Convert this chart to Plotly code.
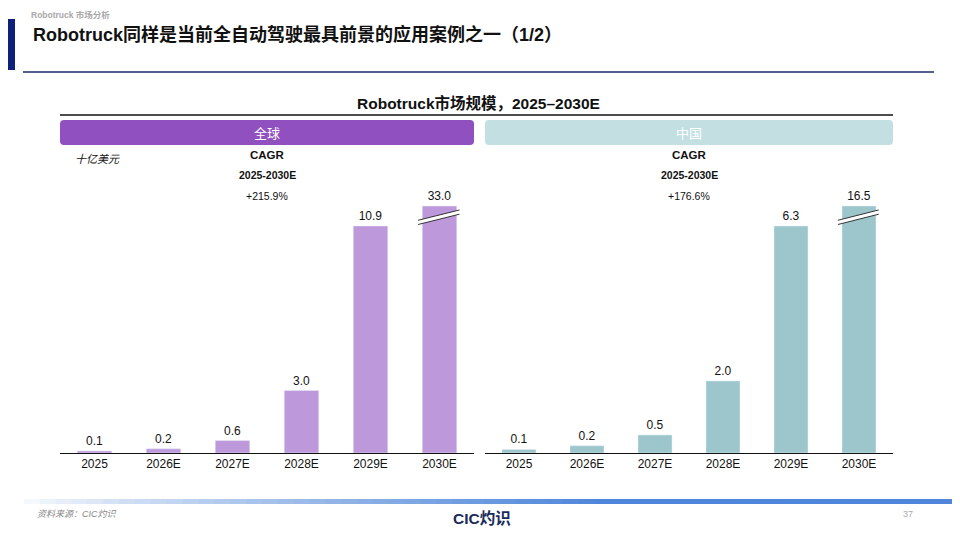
import plotly.graph_objects as go

# данные
years = ['2025', '2026E', '2027E', '2028E', '2029E', '2030E']
global_vals = [0.1, 0.2, 0.6, 3.0, 10.9, 33.0]
china_vals = [0.1, 0.2, 0.5, 2.0, 6.3, 16.5]
cagr_global = '+215.9%'
cagr_china = '+176.6%'
regions = ['全球', '中国']

W, H = 960, 540
OFF = 8  # отступ body в браузере
FONT = 'Liberation Sans, Arial, Noto Sans CJK SC'
CJK = 'Noto Sans CJK SC, Liberation Sans'
purple_bar = '#bd98da'
purple_head = '#9150c0'
teal_bar = '#9dc6cc'
teal_head = '#c3dfe2'


def px(x):
    return (x - OFF) / W


def py(y):
    return 1 - (y - OFF) / H


def rrect(x0, y0, x1, y1, r=4):
    # скругленный прямоугольник в координатах paper
    X0, X1 = px(x0), px(x1)
    Y0, Y1 = py(y1), py(y0)
    rx, ry = r / W, r / H
    return (f'M {X0+rx},{Y0} L {X1-rx},{Y0} Q {X1},{Y0} {X1},{Y0+ry} '
            f'L {X1},{Y1-ry} Q {X1},{Y1} {X1-rx},{Y1} L {X0+rx},{Y1} '
            f'Q {X0},{Y1} {X0},{Y1-ry} L {X0},{Y0+ry} Q {X0},{Y0} {X0+rx},{Y0} Z')


def capped(vals):
    # последний столбец обрезан (разрыв оси)
    cap = sorted(vals)[-2] * 1.088
    return [min(v, cap) for v in vals], cap


g_plot, g_cap = capped(global_vals)
c_plot, c_cap = capped(china_vals)
g_rng = sorted(global_vals)[-2] * 303 / 227
c_rng = sorted(china_vals)[-2] * 303 / 227

fig = go.Figure()
fig.add_bar(x=years, y=g_plot, marker_color=purple_bar, width=0.5,
            text=[f'{v:.1f}' for v in global_vals], textposition='outside',
            textfont=dict(size=12, color='#111'), cliponaxis=False,
            xaxis='x', yaxis='y', hoverinfo='skip')
fig.add_bar(x=years, y=c_plot, marker_color=teal_bar, width=0.5,
            text=[f'{v:.1f}' for v in china_vals], textposition='outside',
            textfont=dict(size=12, color='#111'), cliponaxis=False,
            xaxis='x2', yaxis='y2', hoverinfo='skip')

ydom = [py(453), py(150)]
axis_x = dict(showline=True, linecolor='#111', linewidth=1, ticks='',
              tickfont=dict(size=12, color='#111', family=FONT), showgrid=False,
              zeroline=False, fixedrange=True)
axis_y = dict(visible=False, showgrid=False, zeroline=False, fixedrange=True)

fig.update_layout(
    width=W, height=H, margin=dict(l=0, r=0, t=0, b=0),
    paper_bgcolor='white', plot_bgcolor='white', showlegend=False,
    font=dict(family=FONT, color='#111'), bargap=0.5,
    xaxis=dict(axis_x, domain=[px(60), px(474)], anchor='y'),
    yaxis=dict(axis_y, domain=ydom, range=[0, g_rng], anchor='x'),
    xaxis2=dict(axis_x, domain=[px(485), px(893)], anchor='y2'),
    yaxis2=dict(axis_y, domain=ydom, range=[0, c_rng], anchor='x2'),
)

shapes = []
# знаки разрыва на последних столбцах
for xr, yr, cap, rng in [('x', 'y', g_cap, g_rng), ('x2', 'y2', c_cap, c_rng)]:
    xa, xb = 5 - 0.31, 5 + 0.29
    ya, yb = cap - 0.047 * rng, cap - 0.013 * rng
    d = 0.014 * rng
    shapes.append(dict(type='path', xref=xr, yref=yr,
                       path=f'M {xa},{ya} L {xb},{yb} L {xb},{yb-d} L {xa},{ya-d} Z',
                       fillcolor='white', line=dict(width=0)))
    shapes.append(dict(type='line', xref=xr, yref=yr, x0=xa, y0=ya, x1=xb, y1=yb,
                       line=dict(color='#333', width=1)))
    shapes.append(dict(type='line', xref=xr, yref=yr, x0=xa, y0=ya - d, x1=xb, y1=yb - d,
                       line=dict(color='#333', width=1)))

# шапка страницы
shapes.append(dict(type='rect', xref='paper', yref='paper', x0=px(OFF), x1=px(15),
                   y0=py(70), y1=py(19), fillcolor='#0f1f7c', line=dict(width=0)))
shapes.append(dict(type='line', xref='paper', yref='paper', x0=px(23), x1=px(934),
                   y0=py(72), y1=py(72), line=dict(color='#1b2a6b', width=1.5)))
shapes.append(dict(type='line', xref='paper', yref='paper', x0=px(60), x1=px(893),
                   y0=py(115), y1=py(115), line=dict(color='#111', width=1.5)))
shapes.append(dict(type='path', xref='paper', yref='paper', path=rrect(60, 120, 474, 145),
                   fillcolor=purple_head, line=dict(width=0)))
shapes.append(dict(type='path', xref='paper', yref='paper', path=rrect(485, 120, 893, 145),
                   fillcolor=teal_head, line=dict(width=0)))

# градиентная полоса внизу
n = 60
for i in range(n):
    t = i / (n - 1)
    k = min(1.0, t * 1.6) ** 0.8
    r = int(255 + (79 - 255) * k)
    g = int(255 + (134 - 255) * k)
    b = int(255 + (217 - 255) * k)
    x0 = OFF + (W - OFF) * i / n
    x1 = OFF + (W - OFF) * (i + 1) / n
    shapes.append(dict(type='rect', xref='paper', yref='paper', x0=px(x0),
                       x1=px(x1) + 0.001, y0=py(504), y1=py(499),
                       fillcolor=f'rgb({r},{g},{b})', line=dict(width=0)))

fig.update_layout(shapes=shapes)


def note(x, y, text, size, color='#111', bold=False, italic=False, xanchor='center',
         family=FONT):
    if bold:
        text = f'<b>{text}</b>'
    if italic:
        text = f'<i>{text}</i>'
    fig.add_annotation(x=px(x), y=py(y), xref='paper', yref='paper', text=text,
                       showarrow=False, xanchor=xanchor, yanchor='middle',
                       font=dict(size=size, color=color, family=family))


note(29, 15, 'Robotruck 市场分析', 8.5, color='#a8a8a8', bold=True, xanchor='left')
note(31, 34, 'Robotruck同样是当前全自动驾驶最具前景的应用案例之一（1/2）', 18,
     bold=True, xanchor='left')
note(478, 103, 'Robotruck市场规模，2025–2030E', 15.5, bold=True)
note(267, 132, regions[0], 13, color='white', family=CJK)
note(689, 132, regions[1], 13, color='white', family=CJK)
note(73, 158, '十亿美元', 11, italic=True, xanchor='left', family=CJK)

for cx, cagr in [(267, cagr_global), (689, cagr_china)]:
    note(cx, 155, 'CAGR', 11.5, bold=True)
    note(cx, 175, '2025-2030E', 10.5, bold=True)
    note(cx, 196, cagr, 10.5)

note(35, 514, '资料来源：CIC灼识', 9, color='#888', italic=True, xanchor='left')
note(482, 518, 'CIC灼识', 15.5, color='#1a2a5a', bold=True)
note(908, 514, '37', 9, color='#aaa')

fig.write_html('out.html')
